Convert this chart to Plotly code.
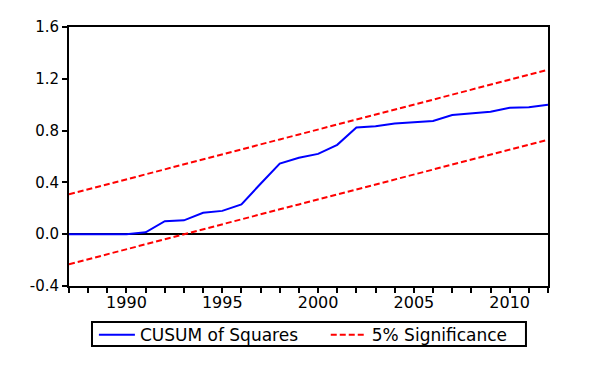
import plotly.graph_objects as go

years = list(range(1987, 2013))
cusum_sq = [0.0, 0.0, 0.0, 0.0, 0.015, 0.10, 0.107, 0.165, 0.18, 0.23,
            0.39, 0.545, 0.59, 0.62, 0.69, 0.824, 0.834, 0.855, 0.865, 0.875,
            0.92, 0.935, 0.945, 0.976, 0.98, 1.0]
upper = [0.308, 0.347, 0.385, 0.424, 0.462, 0.501, 0.539, 0.578, 0.616, 0.655,
         0.693, 0.732, 0.770, 0.808, 0.847, 0.885, 0.924, 0.962, 1.001, 1.039,
         1.078, 1.116, 1.155, 1.193, 1.232, 1.270]
lower = [-0.232, -0.193, -0.155, -0.116, -0.078, -0.039, -0.001, 0.038, 0.076, 0.115,
         0.153, 0.192, 0.230, 0.268, 0.307, 0.345, 0.384, 0.422, 0.461, 0.499,
         0.538, 0.576, 0.615, 0.653, 0.692, 0.730]
y_ticks = [-0.4, 0.0, 0.4, 0.8, 1.2, 1.6]
y_labels = ["-0.4", "0.0", "0.4", "0.8", "1.2", "1.6"]
x_ticks = [1990, 1995, 2000, 2005, 2010]
x_labels = ["1990", "1995", "2000", "2005", "2010"]

FONT = "DejaVu Sans"

fig = go.Figure()
fig.add_trace(go.Scatter(x=years, y=cusum_sq, mode="lines", name="CUSUM of Squares",
                         legend="legend",
                         line=dict(color="#0000FF", width=2)))
fig.add_trace(go.Scatter(x=years, y=upper, mode="lines", name="5% Significance",
                         legend="legend2",
                         line=dict(color="#FF0000", width=2, dash="6px,3px")))
fig.add_trace(go.Scatter(x=years, y=lower, mode="lines", name="5% Significance",
                         showlegend=False, legend="legend2",
                         line=dict(color="#FF0000", width=2, dash="6px,3px")))

leg_common = dict(orientation="h", y=-0.12, yanchor="top", xanchor="left",
                  borderwidth=0, bgcolor="rgba(0,0,0,0)",
                  font=dict(family=FONT, size=17, color="black"),
                  itemwidth=36)

# page body has an 8px default margin, so the figure is shrunk and margins shifted
fig.update_layout(
    width=589, height=359,
    margin=dict(l=61, r=49, t=19, b=81, autoexpand=False),
    paper_bgcolor="white", plot_bgcolor="white",
    font=dict(family=FONT, size=15, color="black"),
    showlegend=True,
    legend=dict(x=0.052, **leg_common),
    legend2=dict(x=0.536, **leg_common),
    shapes=[dict(type="rect", xref="paper", yref="paper",
                 x0=0.048, x1=0.954, y0=-0.232, y1=-0.139,
                 line=dict(color="black", width=2), fillcolor="rgba(0,0,0,0)",
                 layer="above")],
)
fig.update_xaxes(range=[1987, 2012], showgrid=False, zeroline=False, automargin=False,
                 showline=True, linecolor="black", linewidth=2, mirror=True,
                 tickmode="array", tickvals=x_ticks, ticktext=x_labels,
                 ticks="outside", ticklen=5, tickwidth=1.5, tickcolor="black",
                 ticklabelstandoff=-4,
                 minor=dict(dtick=1, tick0=1987, ticks="outside", ticklen=5,
                            tickwidth=1.5, tickcolor="black", showgrid=False),
                 tickfont=dict(family=FONT, size=16, color="black"))
fig.update_yaxes(range=[-0.4, 1.6], showgrid=False, automargin=False,
                 zeroline=True, zerolinecolor="black", zerolinewidth=2,
                 showline=True, linecolor="black", linewidth=2, mirror=True,
                 tickmode="array", tickvals=y_ticks, ticktext=y_labels,
                 ticks="outside", ticklen=5, tickwidth=1.5, tickcolor="black",
                 tickfont=dict(family=FONT, size=15, color="black"))

fig.write_html("out.html")
